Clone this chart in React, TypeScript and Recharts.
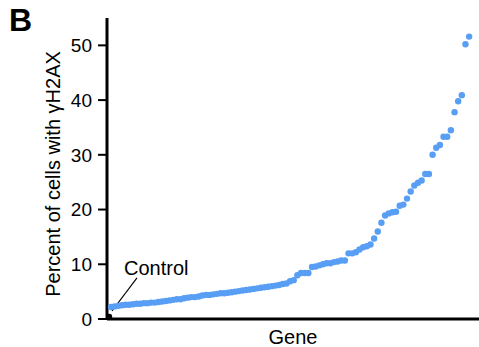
import React from 'react';
import { ScatterChart, Scatter, XAxis, YAxis, ReferenceLine } from 'recharts';

// gamma-H2AX percentage per gene, ranked ascending
const geneValues: number[] = [
  2.2, 2.3, 2.4, 2.5, 2.6, 2.6, 2.7, 2.8, 2.8, 2.9,
  2.9, 3.0, 3.0, 3.1, 3.2, 3.3, 3.4, 3.5, 3.6, 3.6,
  3.8, 3.9, 4.0, 4.0, 4.1, 4.3, 4.4, 4.4, 4.5, 4.6,
  4.7, 4.7, 4.8, 4.9, 5.0, 5.1, 5.2, 5.3, 5.4, 5.5,
  5.6, 5.7, 5.8, 5.9, 6.0, 6.1, 6.2,
  6.4, 6.5, 6.9, 7.1, 8.0, 8.4, 8.4, 8.4, 9.5, 9.6,
  9.8, 10.0, 10.2, 10.2, 10.4, 10.5, 10.7, 10.7, 12.0, 12.0,
  12.2, 12.7, 13.1, 13.3, 13.6, 14.7, 16.0, 17.6, 18.9, 19.3,
  19.5, 19.6, 20.7, 20.9, 22.0, 23.3, 24.4, 24.9, 25.3, 26.5,
  26.5, 30.0, 31.3, 31.8, 33.3, 33.3, 34.5, 37.8, 39.8, 40.9,
  50.2, 51.6,
];
const controlRank = 0.5;
const controlValue = 0.4;
const yTicks: number[] = [0, 10, 20, 30, 40, 50];
const xDomain: [number, number] = [-0.1, 101.7];
const yDomain: [number, number] = [0, 55];

const geneData = geneValues.map((v, i) => ({ x: i + 1, y: v }));
const controlData = [{ x: controlRank, y: controlValue }];

const FONT = '"Liberation Sans", Arial, sans-serif';
const BLUE = '#589ef4';

const BlueDot = (props: any) => (
  <circle cx={props.cx} cy={props.cy} r={3.2} fill={BLUE} />
);
const BlackDot = (props: any) => (
  <circle cx={props.cx} cy={props.cy} r={3} fill="#000" />
);

export default function App() {
  return (
    <div style={{ position: 'absolute', left: 0, top: 0 }}>
      <ScatterChart
        width={479}
        height={347}
        margin={{ top: 18, right: 0, bottom: 0, left: 0 }}
        style={{ fontFamily: FONT }}
      >
        <XAxis
          type="number"
          dataKey="x"
          domain={xDomain}
          allowDataOverflow
          tick={false}
          tickLine={false}
          height={28}
          axisLine={{ stroke: '#000', strokeWidth: 3 }}
          label={{
            content: (p: any) => {
              const vb = p.viewBox || {};
              return (
                <text
                  x={vb.x + vb.width / 2}
                  y={vb.y + 25}
                  textAnchor="middle"
                  fontSize={20}
                  fontFamily={FONT}
                  fill="#000"
                >
                  Gene
                </text>
              );
            },
          }}
        />
        <YAxis
          type="number"
          dataKey="y"
          domain={yDomain}
          ticks={yTicks}
          allowDataOverflow
          width={107}
          tickSize={9}
          tickMargin={6}
          tickLine={{ stroke: '#000', strokeWidth: 2 }}
          axisLine={{ stroke: '#000', strokeWidth: 3 }}
          tick={{ fill: '#000', fontSize: 19, fontFamily: FONT }}
          label={{
            content: () => {
              const cx = 60;
              const cy = 174;
              return (
                <text
                  x={cx}
                  y={cy}
                  transform={`rotate(-90 ${cx} ${cy})`}
                  textAnchor="middle"
                  fontSize={20}
                  fontFamily={FONT}
                  fill="#000"
                >
                  Percent of cells with γH2AX
                </text>
              );
            },
          }}
        />
        <ReferenceLine
          segment={[
            { x: 8.1, y: 7.5 },
            { x: 1.27, y: 1.46 },
          ]}
          stroke="#000"
          strokeWidth={1.2}
          ifOverflow="visible"
        />
        <Scatter
          data={geneData}
          shape={BlueDot}
          isAnimationActive={false}
        />
        <Scatter
          data={controlData}
          shape={BlackDot}
          isAnimationActive={false}
        />
        <text x={124} y={275} fontSize={20} fontFamily={FONT} fill="#000">
          Control
        </text>
        <text x={9} y={31} fontSize={32} fontWeight="bold" fontFamily={FONT} fill="#000">
          B
        </text>
      </ScatterChart>
    </div>
  );
}
